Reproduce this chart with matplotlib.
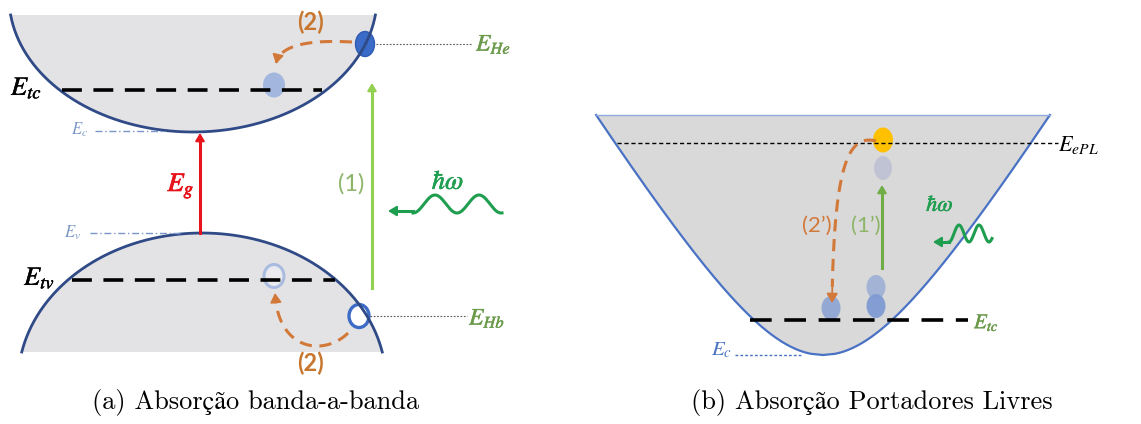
import numpy as np
import matplotlib
matplotlib.use('Agg')
import matplotlib.pyplot as plt
from matplotlib.patches import Ellipse, Polygon
import matplotlib.patheffects as pe

plt.rcParams['mathtext.fontset'] = 'stix'

# ---- diagram values (pixel coordinates, y grows downward) ----
# panel (a): band-to-band absorption
cb_center = (193, -3)      # conduction band ellipse centre
cb_axes = (184, 135)       # semi axes
cb_top = 15
vb_center = (202, 382)
vb_axes = (184, 149)
vb_bottom = 352
level_tc_a = 90
level_tv_a = 280
level_tc_a_x = [62, 322]
level_tv_a_x = [72, 335]
electron_a = (365, 44)
electron_a_relaxed = (274, 85)
hole_a = (359, 316)
hole_a_relaxed = (274, 276)

# panel (b): free carrier absorption
pb_vertex = (823, 355)
pb_B = 159
pb_slope = 0.62
pb_top = 115
level_ePL = 143
level_tc_b = 320
level_ePL_x = [617, 1058]
level_tc_b_x = [750, 968]
electron_b = (883, 140)
electron_b_faded = (883, 168)
electron_b_low = [(831, 308), (876, 287), (876, 306)]

caption_labels = ['(a) Absorção banda-a-banda', '(b) Absorção Portadores Livres']
caption_x = [256, 872]
caption_y = 403

GRAY_A = '#e3e3e5'
GRAY_B = '#d9d9d9'
NAVY = '#2f4a86'
BLUE_B = '#4a72c4'
OLIVE = '#6a9a4a'
LIGHT_OLIVE = '#8db56a'
WAVE_GREEN = '#1f9e50'
ORANGE = '#d2793a'
RED = '#e8141c'


def bezier(pts, n=100):
  pts = np.array(pts, dtype=float)
  t = np.linspace(0, 1, n)[:, None]
  if len(pts) == 3:
    return (1-t)**2*pts[0] + 2*(1-t)*t*pts[1] + t**2*pts[2]
  return (1-t)**3*pts[0] + 3*(1-t)**2*t*pts[1] + 3*(1-t)*t**2*pts[2] + t**3*pts[3]


def head(ax, tip, tail, color, size=0.5, lw=1.5):
  ax.annotate('', xy=tip, xytext=tail,
              arrowprops=dict(arrowstyle='-|>,head_length=%s,head_width=%s' % (size, size*0.6),
                              color=color, lw=lw, shrinkA=0, shrinkB=0))


def dashed_curve(ax, pts, color, lw=2.2, dashes=(4, 2.5)):
  c = bezier(pts)
  ax.plot(c[:-4, 0], c[:-4, 1], color=color, lw=lw, dashes=dashes, solid_capstyle='butt')
  head(ax, tuple(c[-1]), tuple(c[-6]), color, size=0.55, lw=lw*0.6)


def wave(ax, x0, x1, yc, amp, period, tip_x, shaft_y):
  x = np.linspace(x0, x1, 200)
  y = yc + amp*np.cos(2*np.pi*(x - x0)/period)
  ax.plot(x, y, color=WAVE_GREEN, lw=2.2)
  ax.plot([x0, tip_x + 6], [shaft_y, shaft_y], color=WAVE_GREEN, lw=2.2)
  head(ax, (tip_x, shaft_y), (tip_x + 8, shaft_y), WAVE_GREEN, size=0.5, lw=1.5)


def label(ax, x, y, s, color, size, ha='left', stroke=0.0, family=None, weight='normal'):
  t = ax.text(x, y, s, color=color, fontsize=size, ha=ha, va='center',
              family=family, fontweight=weight)
  if stroke:
    t.set_path_effects([pe.withStroke(linewidth=stroke, foreground=color)])
  return t


fig = plt.figure(figsize=(11.41, 4.24), dpi=100)
ax = fig.add_axes([0, 0, 1, 1])
ax.set_xlim(0, 1141)
ax.set_ylim(424, 0)
ax.axis('off')

# ---------------- panel (a) ----------------
cx, cy = cb_center
a, b = cb_axes
t0 = np.arccos((cb_top - cy)/b)
th = np.linspace(-t0, t0, 300)
cb_x = cx + a*np.sin(th)
cb_y = cy + b*np.cos(th)
ax.add_patch(Polygon(np.column_stack([cb_x, cb_y]), closed=True, fc=GRAY_A, ec='none'))
ax.plot(cb_x, cb_y, color=NAVY, lw=2.0)

vx, vy = vb_center
a, b = vb_axes
t0 = np.arccos((vy - vb_bottom)/b)
th = np.linspace(-t0, t0, 300)
vb_x = vx + a*np.sin(th)
vb_y = vy - b*np.cos(th)
ax.add_patch(Polygon(np.column_stack([vb_x, vb_y]), closed=True, fc=GRAY_A, ec='none'))
ax.plot(vb_x, vb_y, color=NAVY, lw=2.0)

ax.plot(level_tc_a_x, [level_tc_a]*2, color='black', lw=2.6, dashes=(5.5, 3.2))
ax.plot(level_tv_a_x, [level_tv_a]*2, color='black', lw=2.6, dashes=(5.5, 3.2))

# Ec / Ev markers
ax.plot([95, 165], [131, 131], color='#7a96c8', lw=1, dashes=(5, 2, 1, 2))
ax.plot([90, 180], [233, 233], color='#7a96c8', lw=1, dashes=(5, 2, 1, 2))

# Eg arrow
ax.plot([200, 200], [233, 142], color=RED, lw=2.2)
head(ax, (200, 133), (200, 143), RED, size=0.45, lw=1.5)

# (1) arrow
ax.plot([372, 372], [288, 92], color='#92d050', lw=2.2)
head(ax, (372, 83), (372, 93), '#92d050', size=0.45, lw=1.5)

# carriers
ax.add_patch(Ellipse(electron_a_relaxed, 22, 25, fc='#a3b6dd', ec='none'))
ax.add_patch(Ellipse(electron_a, 19, 25, fc='#3a6bc8', ec='#2f5cb0', lw=1))
ax.add_patch(Ellipse(hole_a_relaxed, 20, 23, fc='#ebebef', ec='#a9bce0', lw=2.2))
ax.add_patch(Ellipse(hole_a, 20, 23, fc='white', ec='#3d6cc4', lw=2.4))

# relaxation paths (2)
dashed_curve(ax, [(352, 42), (280, 38), (276, 64)], ORANGE)
dashed_curve(ax, [(348, 333), (325, 356), (278, 352), (275, 293)], ORANGE)

# guide lines to E_He / E_Hb
ax.plot([376, 472], [44, 44], color='#555555', lw=0.8, ls=(0, (1.5, 1.5)))
ax.plot([370, 467], [316, 316], color='#555555', lw=0.8, ls=(0, (1.5, 1.5)))

wave(ax, 413, 502, 204, 9, 44, 388, 211)

label(ax, 11, 88, r'$E_{tc}$', 'black', 19, stroke=0.3)
label(ax, 71, 130, r'$E_c$', '#7a96c8', 12)
label(ax, 64, 233, r'$E_v$', '#7a96c8', 12)
label(ax, 24, 278, r'$E_{tv}$', 'black', 19, stroke=0.3)
label(ax, 181, 186, r'$E_g$', RED, 19, ha='center', stroke=0.6)
label(ax, 351, 184, '(1)', LIGHT_OLIVE, 17, ha='center', family='Lato')
label(ax, 448, 182, r'$\hbar\omega$', WAVE_GREEN, 19, ha='center', stroke=0.4)
label(ax, 310, 22, '(2)', '#c7772f', 17, ha='center', family='Lato', weight='bold')
label(ax, 310, 363, '(2)', '#c7772f', 17, ha='center', family='Lato', weight='bold')
label(ax, 476, 44, r'$E_{He}$', OLIVE, 17, stroke=0.3)
label(ax, 469, 318, r'$E_{Hb}$', OLIVE, 17, stroke=0.3)

# ---------------- panel (b) ----------------
px, py = pb_vertex
d = np.linspace(0, py - pb_top, 200)
w = pb_slope*np.sqrt(d**2 + 2*d*pb_B)
bx = np.concatenate([px - w[::-1], px + w])
by = np.concatenate([py - d[::-1], py - d])
ax.add_patch(Polygon(np.column_stack([bx, by]), closed=True, fc=GRAY_B, ec='none'))
ax.plot(bx, by, color=BLUE_B, lw=1.6)
ax.plot([px - w[-1], px + w[-1]], [pb_top, pb_top], color='#8faadc', lw=1)

ax.plot(level_ePL_x, [level_ePL]*2, color='black', lw=1, dashes=(3, 2))
ax.plot(level_tc_b_x, [level_tc_b]*2, color='black', lw=2.6, dashes=(6, 3.5))
ax.plot([735, 803], [355, 355], color=BLUE_B, lw=1, dashes=(2, 1.5))

# carriers
ax.add_patch(Ellipse(electron_b_faded, 18, 24, fc='#bfc3d3', ec='none'))
ax.add_patch(Ellipse(electron_b, 20, 25, fc='#ffc000', ec='none'))
low_cols = ['#90a6d3', '#9fb1d6', '#809bd3']
for (ex, ey), col in zip(electron_b_low, low_cols):
  ax.add_patch(Ellipse((ex, ey), 19, 24, fc=col, ec='none', alpha=0.95))

# (1') arrow
ax.plot([882, 882], [268, 193], color='#70ad47', lw=2.2)
head(ax, (882, 185), (882, 195), '#70ad47', size=0.45, lw=1.5)

# (2') path
dashed_curve(ax, [(876, 141), (848, 134), (834, 165), (832, 303)], ORANGE)

wave(ax, 949, 992, 233.5, 8.5, 20, 933, 242)

label(ax, 1058, 145, r'$E_{ePL}$', 'black', 16)
label(ax, 974, 323, r'$E_{tc}$', OLIVE, 15, stroke=0.3)
label(ax, 711, 350, r'$E_c$', BLUE_B, 15)
label(ax, 817, 226, '(2’)', ORANGE, 16, ha='center', family='Lato')
label(ax, 866, 226, '(1’)', LIGHT_OLIVE, 16, ha='center', family='Lato')
label(ax, 940, 205, r'$\hbar\omega$', WAVE_GREEN, 16, ha='center', stroke=0.4)

# captions
for x, s in zip(caption_x, caption_labels):
  ax.text(x, caption_y, s, fontsize=19, ha='center', va='center',
          family=['cmr10', 'STIXGeneral'])

fig.savefig('out.png', dpi=100)
